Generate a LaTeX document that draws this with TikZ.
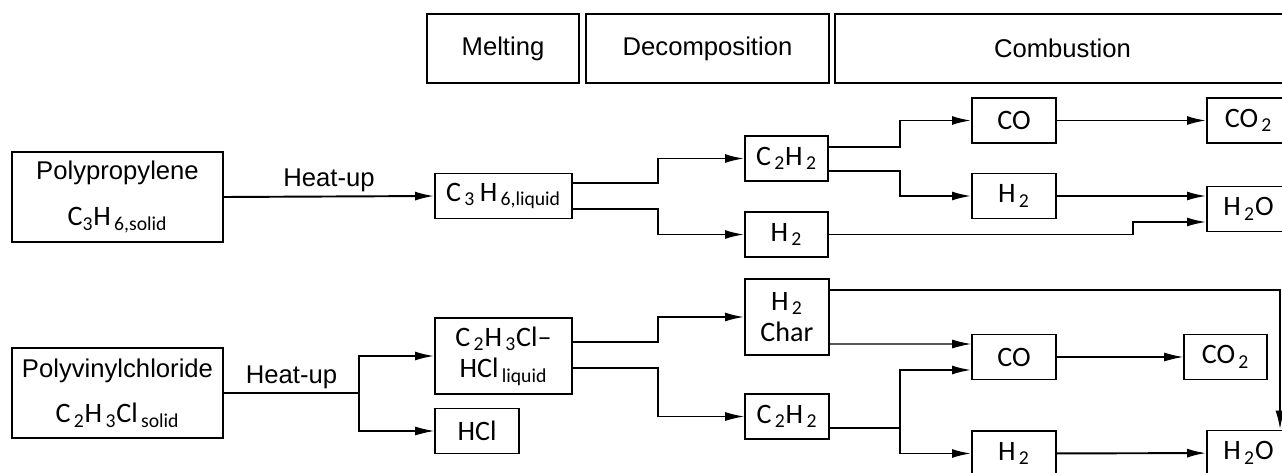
\documentclass[tikz,border=0pt]{standalone}
\usepackage{fontspec}
\setmainfont{Liberation Sans}
\newfontfamily\isofont{Carlito}
\usetikzlibrary{arrows.meta}
\tikzset{
  bloco/.style={draw, line width=1.1pt, inner sep=0pt, minimum width=#1, minimum height=0.9cm, align=center, font=\isofont\fontsize{16}{18}\selectfont},
  bloco/.default=1.68cm,
  fase/.style={draw, line width=1.6pt, inner sep=0pt, minimum width=#1, minimum height=1.38cm, font=\fontsize{14.6}{17}\selectfont},
  polimero/.style={draw, line width=1.1pt, inner sep=0pt, minimum width=4.22cm, minimum height=1.8cm, align=center, font=\fontsize{14.6}{17}\selectfont},
  rotulo/.style={font=\fontsize{14.6}{17}\selectfont, above, inner sep=2pt},
  seta/.style={-{Latex[length=0.38cm,width=0.18cm]}, line width=1.1pt},
  fina/.style={line width=0.6pt},
}

\begin{document}
\begin{tikzpicture}[x=0.02cm, y=-0.02cm]
  \useasboundingbox (0,0) rectangle (1282,473);
  % fases
  \node[fase=3.04cm] (melt) at (503,48.5) {Melting};
  \node[fase=4.86cm] (decomp) at (707.5,48.5) {Decomposition};
  \node[fase=9.1cm] (comb) at (1062.5,48.5) {Combustion};

  % polipropileno
  \node[polimero] (pp) at (117.5,197) {Polypropylene\\[9pt]{\isofont\fontsize{16}{18}\selectfont C\textsubscript{3}H\textsubscript{\,6,solid}}};
  \node[bloco=2.74cm] (liq) at (503.5,196) {C\textsubscript{\,3}\,H\textsubscript{\,6,liquid}};
  \node[bloco=1.66cm] (c2a) at (786.5,158.5) {C\textsubscript{\,2}H\textsubscript{\,2}};
  \node[bloco=1.66cm] (h2c) at (786.5,234.5) {H\textsubscript{\,2}};
  \node[bloco] (coa) at (1014,120.5) {CO};
  \node[bloco] (h2b) at (1014,196) {H\textsubscript{\,2}};
  \node[bloco=1.66cm] (co2a) at (1248.5,120.5) {CO\textsubscript{\,2}};
  \node[bloco=1.66cm] (h2oa) at (1248.5,209) {H\textsubscript{\,2}O};

  % pvc
  \node[polimero] (pvc) at (117.5,393) {Polyvinylchloride\\[9pt]{\isofont\fontsize{16}{18}\selectfont C\textsubscript{\,2}H\textsubscript{\,3}Cl\textsubscript{\,solid}}};
  \node[bloco=2.74cm, minimum height=1.52cm] (vcl) at (503.5,356) {C\textsubscript{\,2}H\textsubscript{\,3}Cl\textendash\\HCl\textsubscript{\,liquid}};
  \node[bloco] (hcl) at (477,431) {HCl};
  \node[bloco, minimum height=1.52cm] (ch) at (787,317) {H\textsubscript{\,2}\\Char};
  \node[bloco] (c2b) at (787,416.5) {C\textsubscript{\,2}H\textsubscript{\,2}};
  \node[bloco] (cob) at (1014,357) {CO};
  \node[bloco=1.66cm] (co2b) at (1225.5,357) {CO\textsubscript{\,2}};
  \node[bloco] (h2d) at (1014,453.5) {H\textsubscript{\,2}};
  \node[bloco=1.66cm] (h2ob) at (1248.5,453) {H\textsubscript{\,2}O};

  % colunas das dobras
  \coordinate (k1) at (658,0);
  \coordinate (k2) at (900,0);
  \coordinate (k3) at (1133,0);
  \coordinate (k4) at (359,0);
  \coordinate (k5) at (1280,0);
  \path ([yshift=-0.26cm]h2oa.west) coordinate (h2oin)
        ([yshift=-0.23cm]c2b.east) coordinate (c2bout);

  % setas polipropileno
  \draw[seta] (pp.east) -- node[rotulo] (hu1) {Heat-up} (liq.west);
  \draw[seta] ([yshift=0.26cm]liq.east) -| (k1 |- c2a.west) -- (c2a.west);
  \draw[seta] ([yshift=-0.26cm]liq.east) -| (k1 |- h2c.west) -- (h2c.west);
  \draw[seta] ([yshift=0.23cm]c2a.east) -| (k2 |- coa.west) -- (coa.west);
  \draw[seta] ([yshift=-0.25cm]c2a.east) -| (k2 |- h2b.west) -- (h2b.west);
  \draw[seta] (coa) -- (co2a);
  \draw[seta] (h2b.east) -- ([yshift=0.26cm]h2oa.west);
  \draw[seta] (h2c.east) -| (k3 |- h2oin) -- (h2oin);

  % setas pvc
  \draw[line width=1.1pt] (pvc.east) -- node[rotulo] (hu2) {Heat-up} (k4 |- pvc.east);
  \draw[seta] (k4 |- pvc.east) |- (vcl.west);
  \draw[seta, fina] (k4 |- pvc.east) |- (hcl.west);
  \draw[seta] ([yshift=0.28cm]vcl.east) -| (k1 |- ch.west) -- (ch.west);
  \draw[seta, fina] ([yshift=-0.24cm]vcl.east) -| (k1 |- c2b.west) -- (c2b.west);
  \draw[seta] ([yshift=0.54cm]ch.east) -| (k5 |- h2ob.north);
  \draw[seta, fina] ([yshift=-0.54cm]ch.east) -- ([yshift=0.26cm]cob.west);
  \draw[line width=1.1pt] (c2bout) -- (k2 |- c2bout);
  \draw[seta] (k2 |- c2bout) |- ([yshift=-0.26cm]cob.west);
  \draw[seta] (k2 |- c2bout) |- (h2d.west);
  \draw[seta, fina] (cob) -- (co2b);
  \draw[seta] (h2d) -- (h2ob);
\end{tikzpicture}
\end{document}
